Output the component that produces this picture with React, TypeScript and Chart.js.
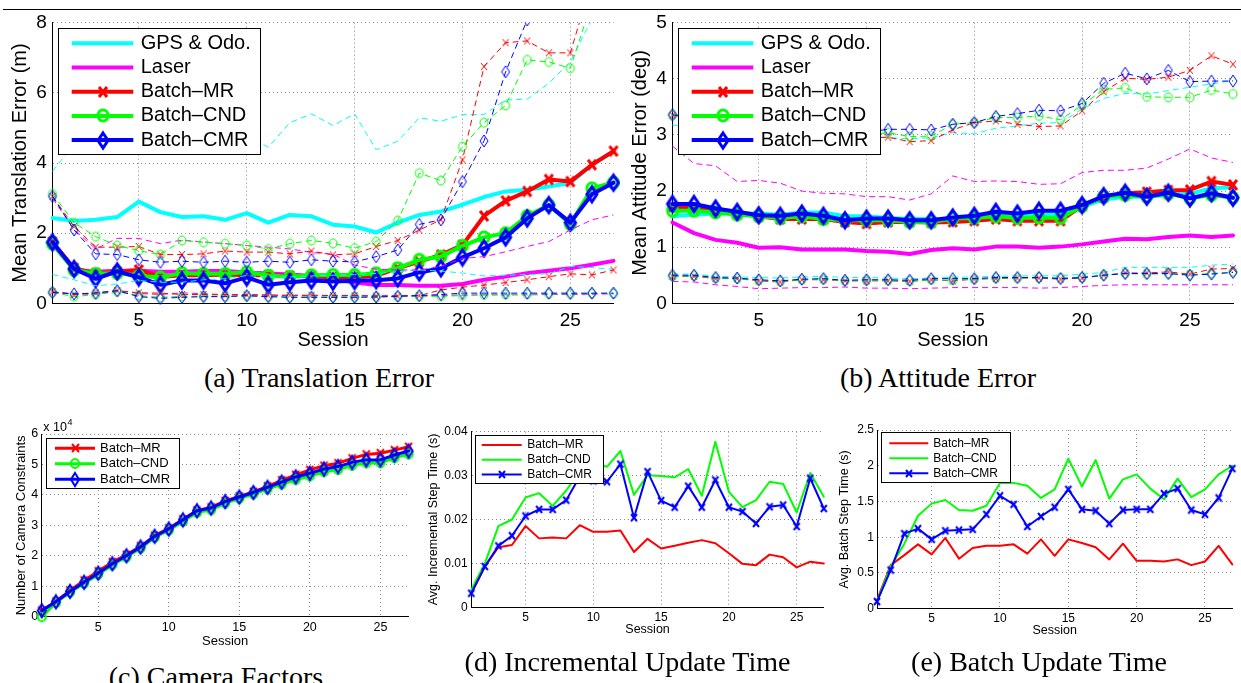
import React, { useEffect, useRef } from 'react';
import { Chart, registerables } from 'chart.js';

Chart.register(...registerables);
Chart.defaults.font.family = '"Liberation Sans", Arial, Helvetica, sans-serif';
Chart.defaults.color = '#000';

// ---------------- data ----------------
const sessions = [1, 2, 3, 4, 5, 6, 7, 8, 9, 10, 11, 12, 13, 14, 15, 16, 17, 18, 19, 20, 21, 22, 23, 24, 25, 26, 27];
const sessionTicks = [5, 10, 15, 20, 25];

const errNames = ['GPS & Odo.', 'Laser', 'Batch\u2013MR', 'Batch\u2013CND', 'Batch\u2013CMR'];
const timeNames = ['Batch\u2013MR', 'Batch\u2013CND', 'Batch\u2013CMR'];

// (a) Translation error (m)
const transTicks = [0, 2, 4, 6, 8];
const transTickLabels = ['0', '2', '4', '6', '8'];
const transGps = [2.43, 2.35, 2.38, 2.46, 2.9, 2.6, 2.46, 2.48, 2.38, 2.57, 2.3, 2.52, 2.48, 2.24, 2.19, 2.02, 2.3, 2.52, 2.62, 2.81, 3.03, 3.19, 3.24, 3.33, 3.43, 3.95, 4.33];
const transLaser = [1.7, 0.95, 0.9, 0.93, 0.93, 0.9, 0.9, 0.92, 0.92, 0.88, 0.85, 0.82, 0.78, 0.68, 0.6, 0.52, 0.52, 0.5, 0.5, 0.55, 0.67, 0.76, 0.86, 0.93, 1.0, 1.1, 1.21];
const transMR = [1.75, 1.0, 0.85, 0.9, 0.95, 0.75, 0.8, 0.8, 0.82, 0.8, 0.8, 0.78, 0.77, 0.75, 0.75, 0.78, 1.0, 1.19, 1.38, 1.66, 2.49, 2.92, 3.19, 3.53, 3.47, 3.95, 4.34];
const transCND = [1.7, 0.95, 0.84, 0.86, 0.78, 0.74, 0.86, 0.84, 0.84, 0.89, 0.79, 0.76, 0.8, 0.81, 0.81, 0.86, 1.0, 1.24, 1.33, 1.64, 1.88, 2.0, 2.49, 2.8, 2.26, 3.28, 3.44];
const transCMR = [1.74, 0.98, 0.7, 0.91, 0.74, 0.53, 0.65, 0.65, 0.57, 0.74, 0.53, 0.6, 0.65, 0.62, 0.64, 0.66, 0.71, 0.88, 1.0, 1.31, 1.57, 1.88, 2.42, 2.8, 2.3, 3.11, 3.44];
const transGpsHi = [3.76, 4.55, 4.6, 4.7, 4.8, 4.7, 4.6, 4.7, 4.6, 4.8, 4.45, 5.15, 5.4, 5.07, 5.4, 4.38, 4.62, 5.29, 5.19, 5.38, 5.38, 5.8, 5.82, 6.27, 6.89, 8.1, 9.3];
const transGpsLo = [0.82, 0.67, 0.5, 0.55, 0.65, 0.6, 0.6, 0.67, 0.7, 0.79, 0.75, 0.75, 0.78, 0.8, 0.82, 0.85, 0.9, 0.95, 0.92, 0.86, 0.78, 0.8, 0.82, 0.84, 1.05, 1.02, 0.97];
const transLaserHi = [3.0, 2.1, 1.55, 1.85, 1.85, 1.7, 1.8, 1.75, 1.7, 1.65, 1.6, 1.55, 1.45, 1.4, 1.09, 0.97, 0.95, 0.95, 1.05, 1.28, 1.33, 1.47, 1.62, 1.76, 2.09, 2.38, 2.52];
const transLaserLo = [0.32, 0.27, 0.25, 0.36, 0.28, 0.25, 0.3, 0.27, 0.25, 0.25, 0.24, 0.22, 0.22, 0.22, 0.22, 0.22, 0.22, 0.22, 0.22, 0.24, 0.24, 0.24, 0.24, 0.25, 0.25, 0.26, 0.27];
const transMRHi = [3.05, 2.19, 1.6, 1.6, 1.62, 1.39, 1.39, 1.41, 1.49, 1.46, 1.46, 1.41, 1.49, 1.38, 1.41, 1.62, 1.79, 2.09, 2.38, 4.09, 6.75, 7.43, 7.48, 7.14, 7.14, 9.2, 11.0];
const transMRLo = [0.33, 0.25, 0.3, 0.36, 0.3, 0.29, 0.25, 0.25, 0.24, 0.24, 0.23, 0.23, 0.23, 0.22, 0.22, 0.2, 0.2, 0.22, 0.38, 0.46, 0.52, 0.59, 0.67, 0.76, 0.84, 0.81, 0.95];
const transCNDHi = [3.12, 2.3, 1.9, 1.65, 1.5, 1.39, 1.79, 1.74, 1.7, 1.65, 1.55, 1.7, 1.79, 1.71, 1.57, 1.76, 2.36, 3.71, 3.5, 4.47, 5.15, 5.64, 6.94, 6.88, 6.7, 8.6, 10.0];
const transCNDLo = [0.31, 0.19, 0.25, 0.33, 0.22, 0.17, 0.2, 0.2, 0.2, 0.2, 0.19, 0.18, 0.18, 0.18, 0.18, 0.18, 0.19, 0.2, 0.2, 0.22, 0.24, 0.25, 0.26, 0.27, 0.27, 0.28, 0.28];
const transCMRHi = [3.05, 2.09, 1.41, 1.39, 1.24, 1.17, 1.2, 1.17, 1.2, 1.17, 1.2, 1.17, 1.24, 1.2, 1.18, 1.33, 1.52, 2.25, 2.38, 3.47, 4.63, 6.6, 8.08, 9.5, 10.0, 10.5, 11.0];
const transCMRLo = [0.31, 0.27, 0.29, 0.36, 0.19, 0.14, 0.17, 0.19, 0.19, 0.22, 0.19, 0.17, 0.17, 0.17, 0.17, 0.18, 0.2, 0.22, 0.25, 0.29, 0.29, 0.29, 0.29, 0.29, 0.29, 0.29, 0.29];

// (b) Attitude error (deg)
const attTicks = [0, 1, 2, 3, 4, 5];
const attTickLabels = ['0', '1', '2', '3', '4', '5'];
const attGps = [1.55, 1.58, 1.6, 1.6, 1.6, 1.58, 1.62, 1.62, 1.55, 1.55, 1.52, 1.5, 1.5, 1.5, 1.52, 1.55, 1.58, 1.58, 1.58, 1.72, 1.85, 1.9, 1.9, 1.93, 1.95, 2.05, 2.07];
const attLaser = [1.44, 1.25, 1.13, 1.08, 0.99, 1.0, 0.96, 0.96, 0.96, 0.93, 0.92, 0.88, 0.95, 0.98, 0.96, 1.01, 1.01, 0.99, 1.01, 1.05, 1.1, 1.15, 1.14, 1.18, 1.21, 1.18, 1.21];
const attMR = [1.72, 1.7, 1.65, 1.6, 1.55, 1.5, 1.5, 1.5, 1.45, 1.42, 1.45, 1.45, 1.44, 1.45, 1.47, 1.5, 1.47, 1.47, 1.47, 1.74, 1.89, 1.96, 1.98, 2.01, 2.02, 2.17, 2.11];
const attCND = [1.65, 1.65, 1.62, 1.58, 1.55, 1.52, 1.55, 1.5, 1.48, 1.48, 1.48, 1.45, 1.45, 1.51, 1.52, 1.55, 1.52, 1.53, 1.52, 1.73, 1.9, 1.93, 1.9, 1.95, 1.87, 1.93, 1.88];
const attCMR = [1.77, 1.77, 1.69, 1.63, 1.57, 1.56, 1.6, 1.56, 1.48, 1.51, 1.51, 1.48, 1.48, 1.53, 1.56, 1.63, 1.6, 1.65, 1.65, 1.75, 1.91, 1.97, 1.9, 1.97, 1.87, 1.96, 1.88];
const attGpsHi = [3.18, 3.1, 3.05, 3.02, 3.0, 2.98, 2.98, 2.98, 2.97, 2.96, 2.95, 2.93, 2.95, 3.04, 3.02, 3.12, 3.16, 3.21, 3.22, 3.46, 3.65, 3.74, 3.73, 3.79, 3.85, 3.91, 3.97];
const attGpsLo = [0.52, 0.52, 0.48, 0.47, 0.46, 0.45, 0.47, 0.48, 0.46, 0.46, 0.45, 0.44, 0.45, 0.46, 0.47, 0.48, 0.49, 0.49, 0.49, 0.52, 0.55, 0.64, 0.64, 0.64, 0.64, 0.68, 0.7];
const attLaserHi = [2.8, 2.49, 2.45, 2.17, 2.19, 2.14, 2.0, 1.96, 1.95, 1.9, 1.9, 1.84, 1.95, 2.27, 2.17, 2.18, 2.17, 2.12, 2.13, 2.33, 2.37, 2.37, 2.41, 2.57, 2.75, 2.59, 2.51];
const attLaserLo = [0.39, 0.38, 0.33, 0.3, 0.26, 0.27, 0.28, 0.28, 0.29, 0.27, 0.27, 0.26, 0.27, 0.28, 0.28, 0.28, 0.28, 0.27, 0.28, 0.3, 0.32, 0.33, 0.33, 0.33, 0.33, 0.33, 0.33];
const attMRHi = [3.35, 3.3, 3.2, 3.1, 3.05, 3.0, 3.0, 3.0, 2.95, 2.95, 2.96, 2.88, 2.9, 3.09, 3.22, 3.25, 3.19, 3.15, 3.16, 3.43, 3.77, 4.01, 3.99, 4.03, 4.15, 4.41, 4.26];
const attMRLo = [0.48, 0.48, 0.44, 0.44, 0.4, 0.38, 0.42, 0.42, 0.4, 0.4, 0.4, 0.39, 0.42, 0.4, 0.43, 0.44, 0.45, 0.45, 0.43, 0.45, 0.5, 0.54, 0.54, 0.56, 0.52, 0.61, 0.62];
const attCNDHi = [3.35, 3.3, 3.2, 3.12, 3.08, 3.05, 3.05, 3.05, 3.02, 3.0, 3.04, 2.97, 2.98, 3.19, 3.22, 3.31, 3.31, 3.34, 3.27, 3.53, 3.81, 3.84, 3.68, 3.67, 3.67, 3.8, 3.73];
const attCNDLo = [0.48, 0.49, 0.45, 0.44, 0.41, 0.39, 0.42, 0.43, 0.4, 0.41, 0.41, 0.4, 0.42, 0.41, 0.43, 0.45, 0.45, 0.46, 0.45, 0.46, 0.5, 0.53, 0.52, 0.53, 0.51, 0.53, 0.56];
const attCMRHi = [3.36, 3.32, 3.22, 3.15, 3.1, 3.08, 3.08, 3.08, 3.06, 3.05, 3.1, 3.1, 3.09, 3.19, 3.22, 3.33, 3.38, 3.44, 3.43, 3.56, 3.92, 4.1, 4.0, 4.15, 3.95, 3.96, 3.96];
const attCMRLo = [0.5, 0.5, 0.46, 0.45, 0.42, 0.4, 0.43, 0.44, 0.41, 0.42, 0.42, 0.41, 0.44, 0.44, 0.44, 0.46, 0.46, 0.46, 0.44, 0.46, 0.5, 0.53, 0.53, 0.53, 0.5, 0.52, 0.55];

// (c) Number of camera constraints
const camTicks = [0, 10000, 20000, 30000, 40000, 50000, 60000];
const camTickLabels = ['0', '1', '2', '3', '4', '5', '6'];
const camMR = [2000, 5000, 8600, 11900, 14900, 17900, 20300, 23100, 26600, 29000, 32000, 34900, 35900, 38000, 39500, 41000, 42800, 44800, 46600, 48200, 49600, 50400, 52000, 53300, 53700, 54700, 55800];
const camCND = [0, 4600, 8000, 10900, 13900, 17000, 19600, 22500, 26000, 28400, 31300, 34200, 35100, 37300, 38800, 40300, 41900, 43500, 45000, 46200, 47600, 48300, 49700, 50500, 50500, 52200, 53400];
const camCMR = [2000, 4900, 8300, 11300, 14300, 17400, 20000, 22900, 26400, 28800, 31800, 34800, 35700, 37800, 39300, 40800, 42500, 44200, 45900, 47100, 48500, 49300, 50700, 51500, 51500, 53100, 54400];

// (d) Avg. incremental step time (s)
const incTicks = [0, 0.01, 0.02, 0.03, 0.04];
const incTickLabels = ['0', '0.01', '0.02', '0.03', '0.04'];
const incMR = [0.0032, 0.0093, 0.0137, 0.0142, 0.0185, 0.0157, 0.0159, 0.0157, 0.0187, 0.0172, 0.0172, 0.0175, 0.0126, 0.0156, 0.0134, 0.014, 0.0147, 0.0153, 0.0146, 0.0123, 0.0099, 0.0096, 0.012, 0.0114, 0.0091, 0.0104, 0.01];
const incCND = [0.004, 0.01, 0.0185, 0.02, 0.025, 0.026, 0.0231, 0.0266, 0.031, 0.033, 0.032, 0.0356, 0.0256, 0.0301, 0.0299, 0.0296, 0.0315, 0.0254, 0.0377, 0.0263, 0.0228, 0.0244, 0.0286, 0.0281, 0.0216, 0.0306, 0.0252];
const incCMR = [0.0032, 0.0093, 0.014, 0.0163, 0.0208, 0.0223, 0.0223, 0.0244, 0.0298, 0.0288, 0.0286, 0.0326, 0.0204, 0.0309, 0.0243, 0.0228, 0.0276, 0.0228, 0.029, 0.0228, 0.0218, 0.0191, 0.0229, 0.0233, 0.0184, 0.0294, 0.0225];

// (e) Avg. batch step time (s)
const batTicks = [0, 0.5, 1, 1.5, 2, 2.5];
const batTickLabels = ['0', '0.5', '1', '1.5', '2', '2.5'];
const batMR = [0.12, 0.61, 0.75, 0.9, 0.76, 0.99, 0.7, 0.85, 0.88, 0.88, 0.9, 0.77, 0.97, 0.74, 0.97, 0.92, 0.86, 0.69, 0.91, 0.67, 0.67, 0.66, 0.69, 0.61, 0.66, 0.88, 0.62];
const batCND = [0.1, 0.59, 0.91, 1.3, 1.47, 1.52, 1.38, 1.37, 1.44, 1.76, 1.76, 1.72, 1.55, 1.67, 2.1, 1.71, 2.08, 1.54, 1.81, 1.88, 1.68, 1.53, 1.82, 1.56, 1.67, 1.88, 2.0];
const batCMR = [0.1, 0.54, 1.05, 1.12, 0.97, 1.09, 1.1, 1.11, 1.32, 1.58, 1.46, 1.15, 1.29, 1.42, 1.67, 1.39, 1.37, 1.19, 1.38, 1.39, 1.39, 1.61, 1.68, 1.38, 1.32, 1.55, 1.96];

// ---------------- styles ----------------
const CYAN = '#00ffff';
const MAGENTA = '#ff00ff';
const RED = '#ff0000';
const GREEN = '#00ff00';
const BLUE = '#0000ff';
const GRID = '#8a8a8a';
const SANS = '"Liberation Sans", Arial, Helvetica, sans-serif';
const SERIF = '"Liberation Serif", "Times New Roman", Times, serif';
const CLIP = { left: 14, top: 0, right: 14, bottom: 14 };

type Shape = 'x' | 'o' | 'd';
function marker(shape: Shape, w: number, h: number, color: string, lw: number): HTMLCanvasElement {
  const pad = Math.ceil(lw) + 1;
  const c = document.createElement('canvas');
  c.width = Math.ceil(w + 2 * pad);
  c.height = Math.ceil(h + 2 * pad);
  const ctx = c.getContext('2d')!;
  const cx = c.width / 2;
  const cy = c.height / 2;
  ctx.strokeStyle = color;
  ctx.lineWidth = lw;
  ctx.beginPath();
  if (shape === 'o') {
    ctx.ellipse(cx, cy, w / 2, h / 2, 0, 0, Math.PI * 2);
  } else if (shape === 'd') {
    ctx.moveTo(cx, cy - h / 2);
    ctx.lineTo(cx + w / 2, cy);
    ctx.lineTo(cx, cy + h / 2);
    ctx.lineTo(cx - w / 2, cy);
    ctx.closePath();
  } else {
    ctx.moveTo(cx - w / 2, cy - h / 2);
    ctx.lineTo(cx + w / 2, cy + h / 2);
    ctx.moveTo(cx + w / 2, cy - h / 2);
    ctx.lineTo(cx - w / 2, cy + h / 2);
  }
  ctx.stroke();
  return c;
}

function series(label: string, data: number[], color: string, width: number, opts: { dash?: number[]; mk?: HTMLCanvasElement | null; legend?: boolean }) {
  return {
    label,
    data,
    borderColor: color,
    backgroundColor: color,
    borderWidth: width,
    borderDash: opts.dash || [],
    borderJoinStyle: 'round',
    borderCapStyle: opts.dash ? 'butt' : 'round',
    pointStyle: opts.mk || 'circle',
    pointRadius: opts.mk ? 5 : 0,
    pointHoverRadius: 0,
    pointBorderWidth: 0,
    pointHitRadius: 0,
    tension: 0,
    fill: false,
    clip: CLIP,
    inLegend: !!opts.legend,
  } as any;
}

function errorDatasets(mean: number[][], hi: number[][], lo: number[][]) {
  const colors = [CYAN, MAGENTA, RED, GREEN, BLUE];
  const big = [null, null, marker('x', 8, 10, RED, 3), marker('o', 10, 11, GREEN, 3), marker('d', 10, 15, BLUE, 3)];
  const small = [null, null, marker('x', 6, 7, RED, 1), marker('o', 8, 9, GREEN, 1), marker('d', 8, 12, BLUE, 1)];
  const out: any[] = [];
  for (let i = 0; i < 5; i++) out.push(series(errNames[i], mean[i], colors[i], 4, { mk: big[i], legend: true }));
  for (let i = 0; i < 5; i++) {
    out.push(series(errNames[i] + ' upper', hi[i], colors[i], 1, { dash: [6, 4], mk: small[i] }));
    out.push(series(errNames[i] + ' lower', lo[i], colors[i], 1, { dash: [6, 4], mk: small[i] }));
  }
  return out;
}

// ---------------- plugins ----------------
const legendPlugin = {
  id: 'mLegend',
  afterDatasetsDraw(chart: any, _args: any, o: any) {
    if (!o || o.w === undefined) return;
    const ctx = chart.ctx as CanvasRenderingContext2D;
    const items = chart.data.datasets.filter((d: any) => d.inLegend);
    ctx.save();
    ctx.fillStyle = '#fff';
    ctx.fillRect(o.x, o.y, o.w, o.h);
    ctx.strokeStyle = '#000';
    ctx.lineWidth = 1;
    ctx.strokeRect(Math.round(o.x) + 0.5, Math.round(o.y) + 0.5, Math.round(o.w), Math.round(o.h));
    items.forEach((d: any, i: number) => {
      const cy = o.y + o.row0 + i * o.rowGap;
      ctx.setLineDash([]);
      ctx.strokeStyle = d.borderColor;
      ctx.lineWidth = d.borderWidth;
      ctx.lineCap = 'butt';
      ctx.beginPath();
      ctx.moveTo(o.line1, cy);
      ctx.lineTo(o.line2, cy);
      ctx.stroke();
      if (d.pointRadius > 0 && typeof d.pointStyle === 'object') {
        const img = d.pointStyle as HTMLCanvasElement;
        ctx.drawImage(img, Math.round((o.line1 + o.line2) / 2 - img.width / 2), Math.round(cy - img.height / 2));
      }
      ctx.fillStyle = '#000';
      ctx.font = `${o.fontSize}px ${SANS}`;
      ctx.textBaseline = 'middle';
      ctx.textAlign = 'left';
      ctx.fillText(d.label, o.textX, cy);
    });
    ctx.restore();
  },
};
Chart.register(legendPlugin as any);

const exponentPlugin = {
  id: 'exp10',
  afterDraw(chart: any) {
    const ctx = chart.ctx as CanvasRenderingContext2D;
    const a = chart.chartArea;
    ctx.save();
    ctx.fillStyle = '#000';
    ctx.textAlign = 'left';
    ctx.textBaseline = 'alphabetic';
    ctx.font = `12.5px ${SANS}`;
    const base = 'x 10';
    ctx.fillText(base, a.left + 1.5, a.top - 3);
    const w = ctx.measureText(base).width;
    ctx.font = `9px ${SANS}`;
    ctx.fillText('4', a.left + 2 + w, a.top - 9.5);
    ctx.restore();
  },
};

// ---------------- panels ----------------
interface Geom {
  canvas: { left: number; top: number; w: number; h: number };
  plot: { l: number; t: number; r: number; b: number };
  yTitleX: number;
  xTitleY: number;
  tickFont: number;
  titleFont: number;
  legendFont: number;
  xTickPad: number;
  yTickPad: number;
  legend: { x: number; y: number; w: number; h: number; row0: number; rowGap: number; line1: number; line2: number; textX: number };
}

interface PanelDef {
  key: string;
  geom: Geom;
  yMin: number;
  yMax: number;
  yTicks: number[];
  yTickLabels: string[];
  yTitle: string;
  datasets: () => any[];
  extra?: any[];
}

const panels: PanelDef[] = [
  {
    key: 'a',
    geom: {
      canvas: { left: 0, top: 0, w: 620, h: 352 },
      plot: { l: 52.5, t: 22.7, r: 613.5, b: 303.3 },
      yTitleX: 20.7, xTitleY: 340, tickFont: 19, titleFont: 20, legendFont: 20, xTickPad: 6.3, yTickPad: 5.8,
      legend: { x: 58.3, y: 28.3, w: 201.7, h: 125.7, row0: 15, rowGap: 24.2, line1: 71.7, line2: 133.3, textX: 140.7 },
    },
    yMin: 0, yMax: 8, yTicks: transTicks, yTickLabels: transTickLabels, yTitle: 'Mean Translation Error (m)',
    datasets: () => errorDatasets(
      [transGps, transLaser, transMR, transCND, transCMR],
      [transGpsHi, transLaserHi, transMRHi, transCNDHi, transCMRHi],
      [transGpsLo, transLaserLo, transMRLo, transCNDLo, transCMRLo],
    ),
  },
  {
    key: 'b',
    geom: {
      canvas: { left: 620, top: 0, w: 621, h: 352 },
      plot: { l: 672.5, t: 22.7, r: 1233, b: 303.3 },
      yTitleX: 640.7, xTitleY: 340, tickFont: 19, titleFont: 20, legendFont: 20, xTickPad: 6.3, yTickPad: 5.8,
      legend: { x: 678.3, y: 28.3, w: 201.7, h: 125.7, row0: 15, rowGap: 24.2, line1: 691.7, line2: 753.3, textX: 760.7 },
    },
    yMin: 0, yMax: 5, yTicks: attTicks, yTickLabels: attTickLabels, yTitle: 'Mean Attitude Error (deg)',
    datasets: () => errorDatasets(
      [attGps, attLaser, attMR, attCND, attCMR],
      [attGpsHi, attLaserHi, attMRHi, attCNDHi, attCMRHi],
      [attGpsLo, attLaserLo, attMRLo, attCNDLo, attCMRLo],
    ),
  },
  {
    key: 'c',
    geom: {
      canvas: { left: 0, top: 410, w: 416, h: 240 },
      plot: { l: 41.8, t: 434, r: 408.6, b: 616.7 },
      yTitleX: 21.7, xTitleY: 641.7, tickFont: 12.5, titleFont: 13, legendFont: 13, xTickPad: 3.5, yTickPad: 3.5,
      legend: { x: 46, y: 438.3, w: 133, h: 50, row0: 10, rowGap: 15.5, line1: 55, line2: 95, textX: 100 },
    },
    yMin: 0, yMax: 60000, yTicks: camTicks, yTickLabels: camTickLabels, yTitle: 'Number of Camera Constraints',
    datasets: () => [
      series(timeNames[0], camMR, RED, 3, { mk: marker('x', 7, 8, RED, 2), legend: true }),
      series(timeNames[1], camCND, GREEN, 3, { mk: marker('o', 8, 9, GREEN, 2), legend: true }),
      series(timeNames[2], camCMR, BLUE, 3, { mk: marker('d', 8, 13, BLUE, 2), legend: true }),
    ],
    extra: [exponentPlugin],
  },
  {
    key: 'd',
    geom: {
      canvas: { left: 420, top: 410, w: 410, h: 240 },
      plot: { l: 471.3, t: 431.7, r: 823.8, b: 607.3 },
      yTitleX: 433.3, xTitleY: 630, tickFont: 12, titleFont: 12.5, legendFont: 12, xTickPad: 2.8, yTickPad: 3.7,
      legend: { x: 475, y: 435, w: 128, h: 48.3, row0: 10, rowGap: 14.7, line1: 481.7, line2: 521.7, textX: 527.3 },
    },
    yMin: 0, yMax: 0.04, yTicks: incTicks, yTickLabels: incTickLabels, yTitle: 'Avg. Incremental Step Time (s)',
    datasets: () => [
      series(timeNames[0], incMR, RED, 2, { legend: true }),
      series(timeNames[1], incCND, GREEN, 2, { legend: true }),
      series(timeNames[2], incCMR, BLUE, 2, { mk: marker('x', 6, 7, BLUE, 2), legend: true }),
    ],
  },
  {
    key: 'e',
    geom: {
      canvas: { left: 830, top: 410, w: 411, h: 240 },
      plot: { l: 877, t: 430, r: 1232.3, b: 608.7 },
      yTitleX: 845, xTitleY: 631, tickFont: 12, titleFont: 12.5, legendFont: 12, xTickPad: 2.8, yTickPad: 3,
      legend: { x: 880.7, y: 432.3, w: 129.3, h: 50, row0: 11, rowGap: 15, line1: 889.3, line2: 928.3, textX: 933.3 },
    },
    yMin: 0, yMax: 2.5, yTicks: batTicks, yTickLabels: batTickLabels, yTitle: 'Avg. Batch Step Time (s)',
    datasets: () => [
      series(timeNames[0], batMR, RED, 2, { legend: true }),
      series(timeNames[1], batCND, GREEN, 2, { legend: true }),
      series(timeNames[2], batCMR, BLUE, 2, { mk: marker('x', 6, 7, BLUE, 2), legend: true }),
    ],
  },
];

const captions = [
  { text: '(a) Translation Error', cx: 319, baseline: 387 },
  { text: '(b) Attitude Error', cx: 938, baseline: 387 },
  { text: '(c) Camera Factors', cx: 216, baseline: 686.8 },
  { text: '(d) Incremental Update Time', cx: 627.5, baseline: 671 },
  { text: '(e) Batch Update Time', cx: 1039, baseline: 671 },
];

function buildChart(canvas: HTMLCanvasElement, p: PanelDef) {
  const g = p.geom;
  const c = g.canvas;
  const a = g.plot;
  const padTop = a.t - c.top;
  const padRight = c.left + c.w - a.r;
  const yW = a.l - c.left;
  const xH = c.top + c.h - a.b;
  const yTitlePad = g.yTitleX - c.left - g.titleFont * 0.6;
  const xTitlePad = c.top + c.h - g.xTitleY - g.titleFont * 0.6;
  const lg = g.legend;
  const datasets = p.datasets();
  datasets.forEach((d: any, i: number) => { d.order = datasets.length - i; });
  const gridOpts = { color: GRID, lineWidth: 1, drawTicks: false };
  const borderOpts = { display: true, color: '#000', width: 1, dash: [1, 3] };
  return new Chart(canvas, {
    type: 'line',
    data: { labels: sessions, datasets },
    options: {
      responsive: false,
      maintainAspectRatio: false,
      animation: false,
      devicePixelRatio: 1,
      events: [],
      layout: { autoPadding: false, padding: { left: 0, top: padTop, right: padRight, bottom: 0 } },
      plugins: {
        legend: { display: false },
        tooltip: { enabled: false },
        mLegend: {
          x: lg.x - c.left, y: lg.y - c.top, w: lg.w, h: lg.h, row0: lg.row0, rowGap: lg.rowGap,
          line1: lg.line1 - c.left, line2: lg.line2 - c.left, textX: lg.textX - c.left, fontSize: g.legendFont,
        },
      },
      scales: {
        x: {
          type: 'linear',
          min: 1,
          max: 27,
          afterBuildTicks: (s: any) => { s.ticks = sessionTicks.map((v) => ({ value: v })); },
          afterFit: (s: any) => { s.height = xH; s.paddingLeft = 0; s.paddingRight = 0; },
          grid: gridOpts,
          border: borderOpts,
          ticks: {
            padding: g.xTickPad, color: '#000', font: { size: g.tickFont }, maxRotation: 0, minRotation: 0, autoSkip: false,
            callback: (v: any) => String(v),
          },
          title: { display: true, text: 'Session', color: '#000', font: { size: g.titleFont }, padding: { top: 0, bottom: xTitlePad } },
        },
        y: {
          type: 'linear',
          min: p.yMin,
          max: p.yMax,
          afterBuildTicks: (s: any) => { s.ticks = p.yTicks.map((v) => ({ value: v })); },
          afterFit: (s: any) => { s.width = yW; s.paddingTop = 0; s.paddingBottom = 0; },
          grid: gridOpts,
          border: borderOpts,
          ticks: {
            padding: g.yTickPad, color: '#000', font: { size: g.tickFont }, autoSkip: false,
            callback: (v: any) => { const i = p.yTicks.indexOf(v); return i >= 0 ? p.yTickLabels[i] : ''; },
          },
          title: { display: true, text: p.yTitle, color: '#000', font: { size: g.titleFont }, padding: { top: yTitlePad, bottom: 0 } },
        },
      },
    } as any,
    plugins: p.extra || [],
  } as any);
}

function Panel({ def }: { def: PanelDef }) {
  const ref = useRef<HTMLCanvasElement>(null);
  useEffect(() => {
    if (!ref.current) return;
    const chart = buildChart(ref.current, def);
    return () => chart.destroy();
  }, [def]);
  const c = def.geom.canvas;
  return (
    <canvas
      ref={ref}
      width={c.w}
      height={c.h}
      style={{ position: 'absolute', left: c.left, top: c.top, width: c.w, height: c.h }}
    />
  );
}

export default function App() {
  useEffect(() => {
    document.body.style.margin = '0';
    document.body.style.overflow = 'hidden';
  }, []);
  return (
    <div style={{ position: 'absolute', left: 0, top: 0, width: 1241, height: 683, overflow: 'hidden', background: '#fff' }}>
      {panels.map((p) => <Panel key={p.key} def={p} />)}
      <div style={{ position: 'absolute', left: 3, top: 8.7, width: 1238, height: 1.5, background: '#000' }} />
      {captions.map((cap) => (
        <div
          key={cap.text}
          style={{
            position: 'absolute', left: cap.cx - 300, width: 600, top: cap.baseline - 23.45,
            textAlign: 'center', whiteSpace: 'nowrap', fontFamily: SERIF, fontSize: 28, lineHeight: '28px', color: '#000',
          }}
        >
          {cap.text}
        </div>
      ))}
    </div>
  );
}
